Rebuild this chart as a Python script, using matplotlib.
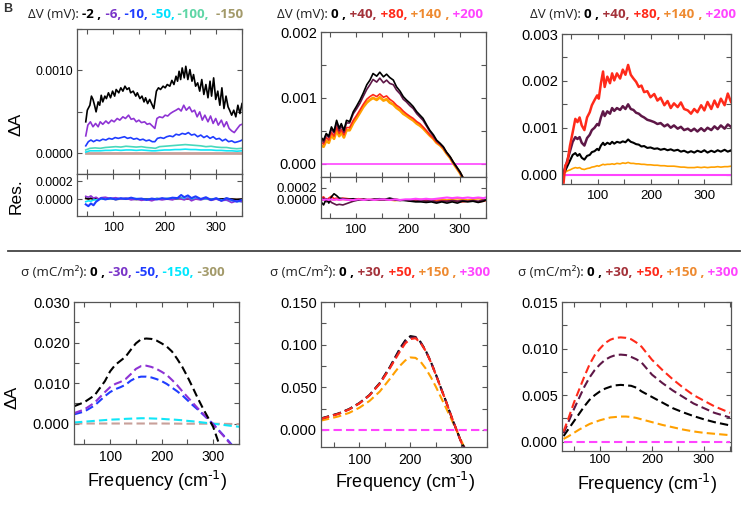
import numpy as np
import matplotlib
matplotlib.use('Agg')
import matplotlib.pyplot as plt
from matplotlib.ticker import MultipleLocator, FormatStrFormatter, FixedLocator
from matplotlib.offsetbox import TextArea, HPacker, AnchoredOffsetbox
from matplotlib.lines import Line2D

W, H = 745, 505

# ---------------- data ----------------
# top left : dV negative, units 1e-4
tl_x_black = [47, 50, 55, 58, 61, 64, 67, 71, 74, 77, 80, 84, 87, 91, 95, 99, 103, 106, 111, 115,
              119, 123, 127, 131, 134, 139, 144, 147, 152, 156, 160, 163, 167, 171, 176, 179, 184, 188, 192, 197,
              201, 205, 210, 214, 218, 222, 225, 228, 231, 234, 238, 241, 245, 249, 253, 256, 260, 264, 268, 272,
              276, 280, 284, 288, 291, 295, 299, 303, 307, 311, 315, 319, 323, 326, 330, 334, 338, 342, 346, 350]
tl_black = [3.8, 5.2, 5.8, 6.9, 6.5, 5.8, 5.0, 6.2, 5.8, 7.0, 6.2, 6.9, 6.6, 7.3, 6.7, 7.5, 6.9, 7.7, 7.3, 7.9,
            7.5, 8.1, 7.7, 7.9, 7.3, 7.5, 6.9, 7.3, 6.6, 6.9, 6.2, 6.7, 6.0, 6.5, 5.8, 5.4, 7.5, 7.9, 7.7, 8.1,
            7.9, 8.3, 8.1, 8.8, 8.3, 9.3, 8.7, 9.9, 8.9, 10.3, 9.1, 10.5, 8.9, 10.1, 8.7, 9.5, 8.1, 8.5, 7.5, 8.9,
            7.1, 8.3, 6.7, 8.7, 6.9, 9.1, 6.5, 7.5, 5.8, 7.9, 5.4, 6.9, 5.6, 5.2, 4.6, 5.2, 4.4, 5.8, 4.8, 6.0]
tl_x_purple = [47, 51, 56, 61, 66, 71, 75, 80, 86, 91, 97, 102, 108, 113, 119, 124, 130, 135, 140, 145,
               150, 155, 161, 166, 171, 176, 181, 185, 190, 196, 201, 206, 211, 216, 222, 227, 232, 237, 242, 248,
               253, 258, 263, 268, 273, 278, 284, 289, 294, 299, 304, 310, 315, 320, 325, 330, 335, 341, 346, 350]
tl_purple = [2.1, 3.4, 3.8, 3.2, 3.6, 3.2, 3.8, 3.5, 3.9, 3.6, 4.0, 3.8, 4.2, 4.0, 4.4, 4.2, 4.6, 4.1, 4.2, 3.8,
             4.0, 3.7, 3.8, 3.5, 3.6, 3.3, 3.0, 4.2, 4.4, 4.3, 4.6, 4.5, 4.8, 5.0, 5.2, 5.4, 5.1, 5.8, 5.2, 5.6,
             5.0, 5.2, 4.4, 5.0, 4.0, 4.6, 3.8, 4.5, 3.6, 4.2, 3.4, 4.0, 3.2, 3.8, 3.0, 2.7, 2.5, 3.0, 3.4, 3.5]
tl_x_blue = [47, 52, 57, 62, 68, 74, 80, 86, 92, 98, 104, 110, 116, 122, 128, 134, 140, 146, 152, 158,
             164, 170, 176, 181, 186, 192, 198, 204, 210, 216, 222, 228, 234, 240, 246, 252, 258, 264, 270, 276,
             282, 288, 294, 300, 306, 312, 318, 324, 330, 336, 342, 347, 350]
tl_blue = [0.9, 1.4, 1.6, 1.4, 1.6, 1.5, 1.7, 1.6, 1.8, 1.7, 1.9, 1.8, 1.9, 2.0, 1.8, 1.9, 1.7, 1.8, 1.6, 1.7,
           1.5, 1.6, 1.4, 1.4, 1.8, 1.9, 1.8, 2.0, 2.1, 2.0, 2.3, 2.2, 2.4, 2.3, 2.5, 2.2, 2.3, 2.0, 2.2, 1.9,
           2.1, 1.8, 2.0, 1.7, 1.8, 1.5, 1.7, 1.4, 1.5, 1.3, 1.4, 1.5, 1.6]
tl_x_low = [47, 55, 65, 75, 85, 95, 105, 115, 125, 135, 145, 155, 165, 175, 182, 190,
            200, 210, 220, 230, 240, 250, 260, 270, 280, 290, 300, 310, 320, 330, 340, 350]
tl_teal = [0.4, 0.6, 0.65, 0.6, 0.7, 0.75, 0.8, 0.75, 0.85, 0.8, 0.75, 0.8, 0.7, 0.65, 0.6, 0.8,
           0.85, 0.9, 0.95, 1.0, 1.05, 1.0, 0.95, 0.9, 0.8, 0.85, 0.75, 0.7, 0.7, 0.6, 0.55, 0.6]
tl_cyan = [0.15, 0.3, 0.3, 0.3, 0.35, 0.35, 0.4, 0.35, 0.4, 0.4, 0.35, 0.4, 0.35, 0.3, 0.3, 0.35,
           0.4, 0.4, 0.45, 0.45, 0.5, 0.45, 0.45, 0.4, 0.4, 0.4, 0.35, 0.35, 0.3, 0.3, 0.25, 0.3]

# top left residuals, units 1e-4
rtl_x = [47, 52, 57, 62, 67, 72, 77, 85, 95, 105, 115, 125, 135, 145, 155, 165, 175, 185,
         195, 205, 215, 225, 232, 238, 245, 252, 260, 270, 280, 290, 300, 310, 320, 330, 340, 350]
rtl_blue = [-0.6, -0.8, -0.5, -0.7, -0.3, -0.1, 0.1, -0.05, 0.1, -0.05, 0.1, 0.0, 0.15, 0.0, 0.05, -0.1, 0.05, -0.05,
            0.1, 0.0, 0.15, 0.1, 0.45, 0.2, 0.4, 0.1, 0.3, 0.0, 0.2, -0.1, 0.1, -0.2, 0.1, -0.1, -0.3, -0.1]
rtl_purple = [0.3, 0.2, 0.35, 0.1, 0.2, 0.0, 0.15, 0.2, 0.05, 0.15, 0.0, 0.1, -0.1, 0.0, -0.15, -0.05, -0.2, 0.0,
              -0.1, 0.0, -0.1, 0.1, 0.0, -0.1, 0.1, -0.2, 0.0, -0.1, 0.1, -0.15, 0.0, -0.2, -0.1, -0.4, -0.2, -0.3]
rtl_cyan = [-0.3, -0.2, -0.25, -0.1, -0.1, 0.0, 0.0, 0.05, 0.0, 0.05, 0.0, 0.05, 0.0, 0.05, 0.0, -0.05, 0.0, 0.05,
            0.0, 0.05, 0.1, 0.05, 0.1, 0.05, 0.1, 0.0, 0.05, -0.05, 0.0, -0.05, 0.0, -0.1, -0.15, -0.2, -0.25, -0.3]
rtl_black = [0.1, 0.0, 0.1, -0.05, 0.05, 0.0, 0.05, 0.0, 0.05, -0.05, 0.0, 0.05, 0.0, -0.05, 0.0, 0.0, -0.05, 0.05,
             0.0, 0.05, 0.0, 0.05, 0.1, 0.0, 0.05, 0.0, 0.05, 0.0, 0.0, -0.05, 0.0, 0.0, 0.05, 0.0, -0.05, 0.0]

# top middle : dV positive, units 1e-3
tm_x = [33, 38, 43, 48, 53, 58, 63, 68, 72, 77, 82, 88, 95, 101, 108, 114, 121, 127, 133, 140,
        146, 153, 159, 165, 172, 178, 185, 191, 197, 204, 210, 217, 223, 229, 236, 242, 249, 255, 262, 268,
        274, 281, 287, 294, 300, 306]
tm_black = [0.40, 0.36, 0.46, 0.42, 0.56, 0.49, 0.66, 0.54, 0.61, 0.51, 0.66, 0.64, 0.79, 0.87, 0.97, 1.07, 1.20, 1.27, 1.37, 1.33,
            1.39, 1.32, 1.36, 1.31, 1.27, 1.17, 1.10, 1.02, 0.97, 0.92, 0.87, 0.79, 0.74, 0.69, 0.59, 0.51, 0.44, 0.36, 0.31, 0.26,
            0.18, 0.11, 0.03, -0.05, -0.12, -0.21]
tm_plum = [0.38, 0.33, 0.44, 0.40, 0.53, 0.47, 0.63, 0.50, 0.58, 0.48, 0.62, 0.62, 0.76, 0.83, 0.92, 1.02, 1.13, 1.20, 1.28, 1.24,
           1.30, 1.23, 1.27, 1.22, 1.20, 1.12, 1.06, 0.98, 0.94, 0.88, 0.84, 0.76, 0.71, 0.66, 0.57, 0.49, 0.42, 0.35, 0.30, 0.25,
           0.17, 0.10, 0.02, -0.06, -0.13, -0.22]
tm_red = [0.33, 0.30, 0.40, 0.36, 0.48, 0.42, 0.56, 0.46, 0.52, 0.44, 0.55, 0.55, 0.66, 0.73, 0.82, 0.90, 0.98, 1.02, 1.05, 1.02,
          1.06, 1.01, 1.03, 0.98, 0.94, 0.89, 0.85, 0.80, 0.76, 0.72, 0.69, 0.64, 0.61, 0.56, 0.50, 0.44, 0.39, 0.33, 0.29, 0.24,
          0.17, 0.10, 0.02, -0.06, -0.13, -0.22]
tm_orange = [0.28, 0.26, 0.35, 0.32, 0.44, 0.38, 0.51, 0.42, 0.48, 0.40, 0.51, 0.51, 0.62, 0.69, 0.78, 0.86, 0.93, 0.97, 1.00, 0.97,
             1.01, 0.96, 0.98, 0.93, 0.90, 0.85, 0.81, 0.76, 0.73, 0.69, 0.66, 0.61, 0.58, 0.54, 0.48, 0.43, 0.38, 0.32, 0.28, 0.23,
             0.16, 0.09, 0.01, -0.07, -0.14, -0.23]

# top middle residuals, units 1e-4
rtm_x = [33, 38, 43, 48, 53, 58, 63, 68, 75, 85, 95, 105, 115, 125, 135, 145, 155, 165, 175,
         185, 195, 205, 215, 225, 235, 245, 255, 265, 275, 285, 295, 305, 315, 325, 335, 345, 350]
rtm_black = [-0.3, -0.8, 0.2, -0.5, 0.5, 1.0, 0.7, 0.3, 0.2, 0.1, 0.2, 0.0, 0.1, 0.0, 0.1, 0.2, 0.1, 0.3, 0.1,
             0.0, -0.1, -0.2, -0.3, -0.3, -0.4, -0.3, -0.5, -0.3, -0.5, -0.3, -0.5, -0.2, -0.3, -0.2, -0.4, -0.2, 0.0]
rtm_plum = [-0.2, 0.3, -0.3, 0.1, -0.4, -0.6, -0.8, -0.7, -0.8, -0.5, -0.2, 0.0, 0.1, 0.0, 0.1, 0.0, 0.0, 0.1, 0.0,
            -0.1, 0.0, -0.1, -0.2, -0.1, -0.2, -0.1, -0.3, -0.2, -0.2, -0.1, -0.2, -0.1, -0.2, -0.1, -0.2, 0.0, 0.0]
rtm_red = [0.3, 0.5, 0.0, 0.3, 0.6, 0.2, 0.3, 0.1, 0.3, 0.2, 0.1, 0.2, 0.1, 0.0, 0.1, 0.0, 0.1, 0.0, 0.1,
           0.0, 0.0, -0.1, 0.0, -0.1, 0.0, -0.1, -0.2, -0.1, -0.2, -0.1, -0.2, -0.3, -0.2, -0.1, -0.3, -0.2, -0.1]
rtm_orange = [0.1, 0.0, 0.2, -0.1, 0.1, 0.0, 0.1, 0.0, 0.1, 0.0, 0.1, 0.0, 0.0, 0.1, 0.0, 0.0, 0.1, 0.0, -0.1,
              0.0, 0.0, -0.1, 0.0, 0.1, 0.0, 0.1, 0.0, 0.1, 0.0, 0.1, 0.2, 0.1, 0.0, 0.1, 0.2, 0.1, 0.0]
rtm_magenta = [0.1, 0.0, 0.1, 0.0, 0.1, 0.0, 0.1, 0.0, 0.1, 0.0, 0.0, 0.1, 0.0, 0.1, 0.0, 0.1, 0.1, 0.0, 0.1,
               0.0, 0.1, 0.1, 0.2, 0.1, 0.2, 0.1, 0.2, 0.3, 0.4, 0.3, 0.4, 0.3, 0.4, 0.3, 0.4, 0.3, 0.4]

# top right, units 1e-3
tr_x = [36, 39, 43, 48, 53, 58, 62, 66, 70, 75, 80, 85, 89, 94, 99, 102, 106, 110, 113, 118,
        123, 127, 131, 136, 142, 147, 152, 157, 162, 167, 172, 177, 182, 187, 193, 199, 206, 212, 218, 225,
        231, 237, 243, 250, 256, 262, 269, 275, 281, 287, 294, 300, 306, 313, 319, 325, 331, 338, 344, 350]
tr_red = [-0.17, 0.19, 0.26, 0.62, 0.90, 1.19, 1.12, 1.22, 1.05, 0.95, 1.22, 1.33, 1.48, 1.59, 1.69, 1.62, 1.95, 2.20, 1.87, 2.09,
          1.95, 2.16, 2.01, 2.16, 2.05, 2.24, 2.13, 2.34, 2.13, 2.05, 1.98, 1.87, 1.90, 1.76, 1.78, 1.65, 1.72, 1.58, 1.64, 1.48,
          1.57, 1.42, 1.52, 1.44, 1.54, 1.40, 1.37, 1.30, 1.40, 1.33, 1.48, 1.37, 1.55, 1.40, 1.58, 1.44, 1.62, 1.48, 1.73, 1.55]
tr_plum = [0.05, 0.15, 0.30, 0.50, 0.70, 0.80, 0.76, 0.80, 0.68, 0.62, 0.78, 0.85, 0.95, 1.00, 1.08, 1.05, 1.22, 1.35, 1.25, 1.35,
           1.30, 1.42, 1.36, 1.42, 1.38, 1.46, 1.40, 1.50, 1.40, 1.38, 1.32, 1.30, 1.25, 1.22, 1.17, 1.15, 1.12, 1.08, 1.10, 1.03,
           1.07, 1.00, 1.05, 0.98, 1.02, 0.95, 0.98, 0.93, 0.98, 0.92, 0.99, 0.93, 1.00, 0.95, 1.03, 0.97, 1.05, 0.98, 1.07, 1.02]
tr_black = [0.02, 0.08, 0.18, 0.30, 0.42, 0.46, 0.40, 0.44, 0.36, 0.32, 0.40, 0.42, 0.48, 0.50, 0.55, 0.52, 0.62, 0.68, 0.63, 0.68,
            0.65, 0.70, 0.66, 0.70, 0.68, 0.71, 0.69, 0.75, 0.70, 0.68, 0.65, 0.64, 0.60, 0.61, 0.57, 0.58, 0.55, 0.56, 0.53, 0.55,
            0.52, 0.54, 0.51, 0.53, 0.49, 0.51, 0.47, 0.50, 0.47, 0.51, 0.48, 0.52, 0.47, 0.51, 0.48, 0.52, 0.49, 0.53, 0.49, 0.52]
tr_orange = [0.02, 0.05, 0.08, 0.10, 0.13, 0.15, 0.14, 0.15, 0.12, 0.11, 0.13, 0.14, 0.16, 0.17, 0.19, 0.18, 0.20, 0.22, 0.21, 0.22,
             0.22, 0.23, 0.22, 0.24, 0.23, 0.25, 0.24, 0.26, 0.24, 0.24, 0.23, 0.23, 0.22, 0.22, 0.21, 0.21, 0.20, 0.20, 0.19, 0.19,
             0.18, 0.18, 0.18, 0.17, 0.16, 0.16, 0.15, 0.15, 0.15, 0.16, 0.15, 0.16, 0.15, 0.16, 0.16, 0.17, 0.16, 0.17, 0.17, 0.18]

# bottom left : sigma negative, units 1e-3
bl_x = [30, 50, 70, 90, 100, 110, 120, 130, 140, 150, 160, 170, 180, 190, 200,
        210, 220, 230, 240, 250, 260, 270, 280, 290, 300, 310, 320, 330, 340, 350]
bl_black = [4.3, 5.3, 7.0, 10.5, 12.9, 14.5, 15.5, 16.5, 18.2, 19.8, 20.8, 21.0, 20.9, 20.5, 19.8,
            19.0, 17.8, 16.0, 14.0, 11.6, 9.0, 6.3, 3.8, 1.5, -0.8, -4.5, -8.5]
bl_purple = [2.6, 3.5, 5.2, 7.8, 9.0, 9.8, 10.3, 11.0, 12.2, 13.5, 14.2, 14.3, 14.0, 13.5, 12.8,
             12.0, 10.8, 9.5, 8.0, 6.6, 5.2, 3.8, 2.5, 1.2, -0.2, -1.6, -3.0, -4.5, -6.0]
bl_blue = [2.3, 3.0, 4.5, 6.8, 7.8, 8.5, 9.0, 9.6, 10.6, 11.3, 11.6, 11.6, 11.4, 11.0, 10.5,
           9.8, 8.9, 8.0, 7.0, 5.8, 4.6, 3.5, 2.3, 1.1, -0.1, -1.5, -2.9, -4.3, -5.8]
bl_cyan = [0.3, 0.5, 0.7, 0.9, 1.0, 1.05, 1.1, 1.2, 1.25, 1.3, 1.35, 1.35, 1.3, 1.25, 1.2,
           1.1, 1.05, 0.95, 0.85, 0.7, 0.6, 0.45, 0.3, 0.15, 0.0, -0.15, -0.3, -0.45, -0.6, -0.75]
bl_rosy = [0.05, 0.05, 0.05, 0.05, 0.05, 0.05, 0.05, 0.05, 0.05, 0.05, 0.05, 0.05, 0.05, 0.05, 0.05,
           0.04, 0.03, 0.02, 0.01, 0.0, 0.0, 0.0, 0.0, 0.0, 0.0, -0.02, -0.03, -0.05, -0.06, -0.08]

# bottom middle : sigma positive, units 1e-3
bm_x = [25, 40, 60, 80, 100, 120, 140, 160, 170, 180, 190, 200, 210, 220, 230, 240, 250, 260, 270, 280, 290, 300, 306]
bm_black = [13.5, 16.0, 19.5, 24.5, 31.5, 41.0, 55.0, 74.0, 85.0, 96.0, 105.0, 110.0, 109.0, 103.0, 93.0, 80.0, 65.0, 49.0, 33.0, 16.0, 0.5, -15.0, -21.0]
bm_plum = [13.2, 15.7, 19.2, 24.2, 31.2, 40.7, 54.5, 73.2, 84.0, 94.5, 103.5, 108.3, 108.5, 102.5, 92.7, 79.7, 64.7, 48.7, 33.0, 16.2, 0.5, -15.0, -21.0]
bm_red = [13.0, 15.5, 19.0, 24.0, 31.0, 40.5, 54.0, 72.5, 82.5, 92.5, 101.5, 106.5, 107.5, 102.0, 92.5, 79.5, 64.5, 48.5, 33.0, 16.5, 0.5, -15.0, -21.0]
bm_orange = [11.0, 13.0, 16.0, 20.0, 26.0, 34.0, 45.0, 60.0, 68.0, 75.5, 81.5, 85.0, 84.5, 80.0, 72.0, 62.0, 50.5, 38.0, 25.5, 13.0, 0.0, -13.0, -21.0]

# bottom right, units 1e-3
br_x = [30, 40, 50, 60, 70, 80, 90, 100, 110, 120, 130, 140, 150, 160, 170, 180, 200, 220, 240, 260, 280, 300, 320, 350]
br_red = [1.1, 2.6, 4.2, 5.6, 7.0, 8.3, 9.3, 10.0, 10.6, 10.95, 11.15, 11.2, 11.15, 11.0, 10.65, 10.2, 8.8, 7.7, 6.7, 5.8, 5.0, 4.4, 3.8, 3.1]
br_plum = [0.9, 2.2, 3.5, 4.7, 5.9, 6.9, 7.7, 8.3, 8.8, 9.1, 9.3, 9.35, 9.3, 9.1, 8.85, 8.5, 7.2, 6.3, 5.5, 4.8, 4.1, 3.6, 3.1, 2.6]
br_black = [0.6, 1.4, 2.2, 3.0, 3.8, 4.5, 5.0, 5.4, 5.7, 5.9, 6.05, 6.1, 6.05, 6.0, 5.8, 5.4, 4.8, 4.2, 3.6, 3.15, 2.75, 2.4, 2.1, 1.75]
br_orange = [0.3, 0.6, 0.95, 1.3, 1.6, 1.9, 2.1, 2.3, 2.45, 2.6, 2.65, 2.7, 2.7, 2.65, 2.55, 2.4, 2.1, 1.8, 1.55, 1.3, 1.1, 0.95, 0.85, 0.7]

# title pieces
dv_neg = [("ΔV (mV): ", "#222222", "normal"), ("-2 ,", "#000000", "bold"), (" -6,", "#7a34c8", "bold"),
          (" -10,", "#1f3dff", "bold"), (" -50,", "#00e0ff", "bold"), (" -100,", "#5fd6a6", "bold"),
          ("  -150", "#a39a6a", "bold")]
dv_pos = [("ΔV (mV): ", "#222222", "normal"), ("0 ,", "#000000", "bold"), (" +40,", "#a4323a", "bold"),
          (" +80,", "#ff2a1a", "bold"), (" +140", "#ee8a30", "bold"), (" ,", "#ee8a30", "bold"),
          (" +200", "#ff44ff", "bold")]
sg_neg = [("σ (mC/m²): ", "#222222", "normal"), ("0 ,", "#000000", "bold"), (" -30,", "#7a34c8", "bold"),
          (" -50,", "#1f3dff", "bold"), (" -150,", "#00e8ff", "bold"), (" -300", "#a39a6a", "bold")]
sg_pos = [("σ (mC/m²): ", "#222222", "normal"), ("0 ,", "#000000", "bold"), (" +30,", "#a4323a", "bold"),
          (" +50,", "#ff2a1a", "bold"), (" +150", "#ee8a30", "bold"), (" ,", "#ee8a30", "bold"),
          (" +300", "#ff44ff", "bold")]

BLACK = "#000000"
PURPLE = "#8e33d4"
BLUE = "#1f3dff"
CYAN = "#10e6f8"
TEAL = "#48d8bc"
ROSY = "#c8a09a"
PLUM = "#5e1747"
RED = "#ff2a1a"
ORANGE = "#ffa000"
MAGENTA = "#ff44ff"

plt.rcParams['font.family'] = ['Liberation Sans', 'DejaVu Sans']
plt.rcParams['mathtext.default'] = 'regular'

fig = plt.figure(figsize=(W / 100, H / 100), dpi=100)


def add_ax(x0, y0, x1, y1):
    return fig.add_axes([x0 / W, 1 - y1 / H, (x1 - x0) / W, (y1 - y0) / H])


def style(ax, xlim, ylim, ymaj, ymin, yfmt, xlabels=True, ysize=10, xsize=9.5):
    ax.set_xlim(*xlim)
    ax.set_ylim(*ylim)
    ax.xaxis.set_major_locator(MultipleLocator(100))
    ax.xaxis.set_minor_locator(MultipleLocator(50))
    if isinstance(ymaj, list):
        ax.yaxis.set_major_locator(FixedLocator(ymaj))
    else:
        ax.yaxis.set_major_locator(MultipleLocator(ymaj))
        ax.yaxis.set_minor_locator(MultipleLocator(ymin))
    ax.yaxis.set_major_formatter(FormatStrFormatter(yfmt))
    ax.tick_params(which='both', direction='in', top=True, right=True, length=3.8,
                   width=0.8, color='#555555', pad=3)
    ax.tick_params(axis='y', labelsize=ysize)
    ax.tick_params(axis='x', pad=4, labelsize=xsize)
    if not xlabels:
        ax.tick_params(labelbottom=False)
    for s in ax.spines.values():
        s.set_color('#555555')
        s.set_linewidth(0.9)


def title(x_px, y_px, parts):
    boxes = [TextArea(s, textprops=dict(color=c, fontweight=w, fontsize=9.6,
                                        family=['Open Sans', 'DejaVu Sans'])) for s, c, w in parts]
    pack = HPacker(children=boxes, align="baseline", pad=0, sep=0)
    box = AnchoredOffsetbox(loc='center left', child=pack, pad=0, borderpad=0, frameon=False,
                            bbox_to_anchor=(x_px / W, 1 - y_px / H), bbox_transform=fig.transFigure)
    fig.add_artist(box)


LW = 1.2
dash = (0, (4, 2))

# ---- top left
ax = add_ax(77, 29, 242, 174)
ax.plot([47, 350], [0, 0], color=ROSY, lw=2)
ax.plot(tl_x_low, np.array(tl_cyan) * 1e-4, color=CYAN, lw=LW)
ax.plot(tl_x_low, np.array(tl_teal) * 1e-4, color=TEAL, lw=LW)
ax.plot(tl_x_blue, np.array(tl_blue) * 1e-4, color=BLUE, lw=LW)
ax.plot(tl_x_purple, np.array(tl_purple) * 1e-4, color=PURPLE, lw=LW)
ax.plot(tl_x_black, np.array(tl_black) * 1e-4, color=BLACK, lw=LW)
style(ax, (30, 350), (-0.00025, 0.0015), 0.001, 0.0005, '%.4f', xlabels=False, ysize=8.8)

ax = add_ax(77, 174, 242, 216)
ax.plot([47, 350], [0, 0], color=ROSY, lw=1.5)
ax.plot(rtl_x, np.array(rtl_black) * 1e-4, color=BLACK, lw=LW)
ax.plot(rtl_x, np.array(rtl_cyan) * 1e-4, color=CYAN, lw=LW)
ax.plot(rtl_x, np.array(rtl_purple) * 1e-4, color=PURPLE, lw=LW)
ax.plot(rtl_x, np.array(rtl_blue) * 1e-4, color=BLUE, lw=1.5)
style(ax, (30, 350), (-0.00019, 0.00028), [0, 0.0002], None, '%.4f', ysize=8.8, xsize=9)

# ---- top middle
ax = add_ax(321, 32, 486, 177)
ax.plot([33, 350], [0, 0], color=MAGENTA, lw=LW)
ax.plot(tm_x, np.array(tm_orange) * 1e-3, color=ORANGE, lw=2)
ax.plot(tm_x, np.array(tm_red) * 1e-3, color=RED, lw=LW)
ax.plot(tm_x, np.array(tm_plum) * 1e-3, color=PLUM, lw=LW)
ax.plot(tm_x, np.array(tm_black) * 1e-3, color=BLACK, lw=LW)
style(ax, (33, 350), (-0.0002, 0.002), 0.001, 0.0005, '%.3f', xlabels=False, ysize=10.5)

ax = add_ax(321, 177, 486, 218)
ax.plot(rtm_x, np.array(rtm_orange) * 1e-4, color=ORANGE, lw=LW)
ax.plot(rtm_x, np.array(rtm_red) * 1e-4, color=RED, lw=LW)
ax.plot(rtm_x, np.array(rtm_plum) * 1e-4, color=PLUM, lw=LW)
ax.plot(rtm_x, np.array(rtm_black) * 1e-4, color=BLACK, lw=LW)
ax.plot(rtm_x, np.array(rtm_magenta) * 1e-4, color=MAGENTA, lw=1.5)
style(ax, (33, 350), (-0.00029, 0.00037), [0, 0.0002], None, '%.4f', ysize=9.5)

# ---- top right
ax = add_ax(562, 34, 731, 184)
ax.plot([36, 350], [0, 0], color=MAGENTA, lw=1.5)
ax.plot(tr_x, np.array(tr_orange) * 1e-3, color=ORANGE, lw=LW)
ax.plot(tr_x, np.array(tr_black) * 1e-3, color=BLACK, lw=1.5)
ax.plot(tr_x, np.array(tr_plum) * 1e-3, color=PLUM, lw=1.8)
ax.plot(tr_x, np.array(tr_red) * 1e-3, color=RED, lw=1.8)
style(ax, (33, 350), (-0.0002, 0.003), 0.001, 0.0005, '%.3f', ysize=10.5)

# ---- bottom left
ax = add_ax(74, 302, 239, 444)
ax.plot(bl_x, np.array(bl_rosy) * 1e-3, color=ROSY, lw=1.5, ls=dash)
ax.plot(bl_x, np.array(bl_cyan) * 1e-3, color=CYAN, lw=1.5, ls=dash)
ax.plot(bl_x[:len(bl_blue)], np.array(bl_blue) * 1e-3, color=BLUE, lw=1.5, ls=dash)
ax.plot(bl_x[:len(bl_purple)], np.array(bl_purple) * 1e-3, color=PURPLE, lw=1.5, ls=dash)
ax.plot(bl_x[:len(bl_black)], np.array(bl_black) * 1e-3, color=BLACK, lw=1.5, ls=dash)
style(ax, (30, 350), (-0.005, 0.030), 0.01, 0.005, '%.3f', ysize=10.5, xsize=10)

# ---- bottom middle
ax = add_ax(321, 302, 487, 447)
ax.plot([25, 350], [0, 0], color=MAGENTA, lw=1.5, ls=dash)
ax.plot(bm_x, np.array(bm_orange) * 1e-3, color=ORANGE, lw=1.5, ls=dash)
ax.plot(bm_x, np.array(bm_black) * 1e-3, color=BLACK, lw=1.5, ls=dash)
ax.plot(bm_x, np.array(bm_plum) * 1e-3, color=PLUM, lw=1.5, ls=dash)
ax.plot(bm_x, np.array(bm_red) * 1e-3, color=RED, lw=1.5, ls=dash)
style(ax, (25, 350), (-0.02, 0.15), 0.05, 0.025, '%.3f', ysize=10.5, xsize=10)

# ---- bottom right
ax = add_ax(562, 302, 731, 451)
ax.plot([30, 350], [0, 0], color=MAGENTA, lw=1.5, ls=dash)
ax.plot(br_x, np.array(br_orange) * 1e-3, color=ORANGE, lw=1.5, ls=dash)
ax.plot(br_x, np.array(br_black) * 1e-3, color=BLACK, lw=1.5, ls=dash)
ax.plot(br_x, np.array(br_plum) * 1e-3, color=PLUM, lw=1.5, ls=dash)
ax.plot(br_x, np.array(br_red) * 1e-3, color=RED, lw=1.5, ls=dash)
style(ax, (27, 352), (-0.001, 0.015), 0.005, 0.0025, '%.3f', ysize=10.5, xsize=9.5)
ax.tick_params(axis='x', pad=2.5)

# titles
title(28, 15, dv_neg)
title(277, 15, dv_pos)
title(530, 15, dv_pos)
title(21, 273, sg_neg)
title(270, 273, sg_pos)
title(518, 273, sg_pos)

# axis labels
fig.text(16 / W, 1 - 124 / H, "ΔA", rotation=90, fontsize=12.5, ha='center', va='center')
fig.text(16 / W, 1 - 196 / H, "Res.", rotation=90, fontsize=12.5, ha='center', va='center')
fig.text(12 / W, 1 - 397 / H, "ΔA", rotation=90, fontsize=12.5, ha='center', va='center')
for cx, cy in [(157, 481), (405, 482), (647, 484)]:
    fig.text(cx / W, 1 - cy / H, r"Frequency (cm$^{\text{-1}}$)", fontsize=13, ha='center', va='center')

# panel letter and separator
fig.text(3 / W, 1 - 9 / H, "B", fontsize=9, fontweight='bold', color='#333333', va='center')
fig.add_artist(Line2D([8 / W, 740 / W], [1 - 251 / H, 1 - 251 / H], transform=fig.transFigure,
                      color='#444444', lw=1.3))

fig.savefig("out.png", dpi=100)
